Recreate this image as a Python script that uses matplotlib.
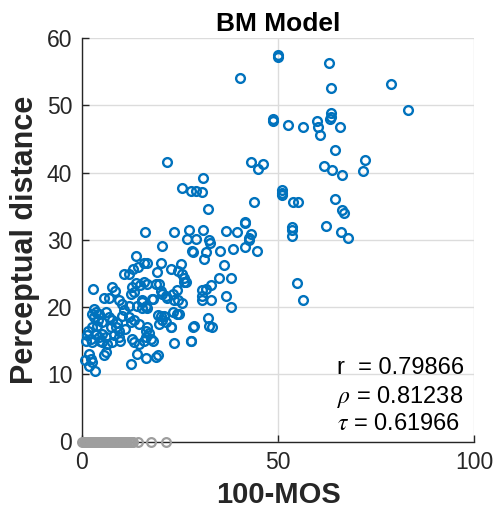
import matplotlib
matplotlib.use("Agg")
import matplotlib.pyplot as plt

plt.rcParams['font.family'] = ['Liberation Sans', 'DejaVu Sans']
plt.rcParams['mathtext.fontset'] = 'stix'

# Blue points (100-MOS, perceptual distance)
blue_x = [
    49.9, 49.9, 40.3, 48.7, 48.7, 52.5, 43.2, 46.1, 45.0, 43.8, 41.7, 41.7,
    51.0, 51.0, 51.0, 63.0, 63.5, 78.9, 83.2,
    56.5, 60.0, 60.2, 60.6, 63.4, 63.6, 63.2, 65.7, 64.6, 72.3, 71.6, 61.7, 63.9, 66.4,
    53.9, 55.0, 64.6, 66.2, 66.9, 53.6, 53.6, 53.6, 62.3, 66.1, 67.8, 54.8, 56.3,
    21.8, 30.8, 25.4, 27.7, 29.1, 30.5, 32.1,
    16.1, 23.5, 27.3, 30.9, 26.9, 29.2, 32.4, 32.6, 36.8, 39.5, 43.2, 42.7, 42.6,
    41.6, 44.7, 38.5, 35.1, 20.4, 28.0, 28.3, 31.6, 31.0, 36.2,
    13.7, 15.9, 16.5, 20.1, 22.6, 25.2, 24.6, 25.6, 26.0, 26.5, 19.1, 10.8, 12.0,
    12.9, 14.2,
    15.9, 16.7, 18.0, 19.7, 20.1, 21.4, 21.8, 24.3, 23.5, 25.6, 30.5, 30.7, 30.7,
    32.8, 32.8, 34.9, 37.9, 36.8, 37.9, 32.2, 33.1, 28.4, 27.9, 23.5, 19.3, 22.6,
    24.3, 23.2, 20.1, 19.3, 20.4, 19.7, 16.7, 15.4, 17.8, 16.5, 17.0, 17.6, 16.3,
    12.0,
    18.8, 20.5, 23.1, 24.4, 31.6, 15.4, 16.3, 20.9, 21.4, 16.3, 18.0, 15.9, 18.8,
    26.0, 22.6, 24.8, 28.6, 32.4, 27.7,
    2.8, 7.7, 8.4, 12.8, 13.2, 12.4, 13.7, 14.9, 5.6, 6.9, 9.4, 10.3, 3.1, 3.5,
    2.6, 3.1, 4.3, 6.0, 6.9, 7.7, 10.7, 10.3, 12.0, 14.1, 15.3, 16.2, 12.4, 13.2,
    14.5, 2.6, 3.9, 5.2, 7.3, 8.6, 9.4, 1.3, 2.2, 0.9, 2.6, 3.5, 4.3, 5.2, 6.0,
    5.2, 6.4, 7.7, 9.4, 9.8, 8.1, 12.8, 13.2, 14.5, 1.8, 2.2, 2.6, 1.8, 6.0, 5.6,
    14.1, 16.2, 12.4, 3.3,
    1.5, 4.0, 8.9, 11.0, 0.8, 4.7,
]
blue_y = [
    57.2, 57.5, 54.0, 47.6, 47.9, 47.0, 41.6, 41.3, 40.5, 35.6, 32.5, 32.7,
    37.4, 37.0, 36.7, 56.3, 52.6, 53.1, 49.3,
    46.8, 47.6, 46.7, 45.6, 48.8, 48.3, 47.9, 46.7, 43.3, 41.9, 40.2, 41.0, 40.3, 39.7,
    35.6, 35.6, 36.0, 34.4, 34.0, 31.9, 31.4, 30.5, 32.0, 31.2, 30.3, 23.5, 21.1,
    41.5, 39.2, 37.7, 37.3, 37.3, 37.1, 34.5,
    31.1, 31.1, 31.4, 31.4, 30.1, 30.1, 29.9, 29.5, 31.3, 31.1, 30.8, 30.3, 29.9,
    28.9, 28.4, 28.6, 28.4, 29.1, 28.3, 28.2, 28.2, 27.1, 26.3,
    27.6, 26.6, 26.5, 26.6, 25.6, 26.4, 25.4, 24.9, 24.3, 23.7, 25.2, 24.9, 24.9,
    25.6, 25.9,
    23.7, 23.4, 21.2, 23.4, 22.4, 21.7, 21.4, 22.5, 21.0, 20.6, 22.5, 21.7, 21.0,
    23.2, 21.0, 24.3, 24.3, 21.7, 20.0, 18.4, 17.0, 17.1, 14.9, 14.7, 12.8, 17.1,
    19.0, 19.2, 18.7, 18.8, 18.0, 17.5, 19.9, 19.9, 21.2, 17.0, 16.2, 15.3, 15.5,
    20.1,
    23.4, 21.9, 21.9, 21.0, 22.7, 21.0, 20.2, 18.7, 17.7, 16.5, 15.0, 15.0, 12.6,
    23.7, 17.0, 19.0, 17.2, 17.2, 15.0,
    22.7, 22.9, 22.4, 23.0, 22.2, 21.9, 23.5, 23.2, 21.4, 21.4, 21.0, 20.5, 19.7, 19.2,
    19.0, 18.5, 19.0, 19.2, 18.5, 18.0, 19.5, 18.7, 18.5, 20.2, 20.7, 20.0, 17.7, 18.0,
    17.5, 17.0, 17.2, 17.7, 17.0, 17.0, 16.5, 15.8, 15.3, 15.0, 14.8, 16.0, 15.5, 16.0, 15.5,
    14.8, 14.5, 14.8, 15.5, 15.0, 15.8, 15.3, 14.8, 14.5, 13.0, 12.3, 11.8, 11.3, 13.3, 12.8,
    13.0, 12.4, 11.5, 10.5,
    16.4, 18.0, 17.6, 16.8, 12.1, 15.0,
]

# Gray points at zero distance
gray_x = [0.1, 0.4, 0.7, 1.0, 1.3, 1.6, 2.0, 2.3, 2.7, 3.0, 3.4, 3.8, 4.1, 4.5,
          4.9, 5.2, 5.6, 6.0, 6.4, 6.8, 7.2, 7.6, 8.0, 8.4, 8.8, 9.2, 9.6, 10.0,
          10.4, 10.8, 11.2, 11.6, 12.0, 12.4, 12.8, 13.1, 14.3, 17.7, 21.5]
gray_y = [0.0] * len(gray_x)

stat_labels = ["r  = 0.79866", r"$\rho$ = 0.81238", r"$\tau$ = 0.61966"]
stat_y = [10.0, 5.7, 1.7]

x_ticks = [0, 50, 100]
y_ticks = [0, 10, 20, 30, 40, 50, 60]

fig = plt.figure(figsize=(4.95, 5.18), dpi=100)
ax = fig.add_axes([82/495, 1-441.5/518, 392/495, 403.5/518])

blue = '#0072BD'
gray = '#9E9E9E'
ax.plot(gray_x, gray_y, 'o', ls='none', mfc='none', mec=gray, ms=6.3, mew=1.6,
        clip_on=False, zorder=3)
ax.plot(blue_x, blue_y, 'o', ls='none', mfc='none', mec=blue, ms=6.3, mew=1.7,
        clip_on=False, zorder=4)

ax.set_xlim(0, 100)
ax.set_ylim(0, 60)
ax.set_xticks(x_ticks)
ax.set_yticks(y_ticks)
ax.grid(True, color='#DCDCDC', lw=1.0)
ax.set_axisbelow(True)
for s in ['top', 'right']:
    ax.spines[s].set_visible(False)
ax.spines['left'].set_color('#262626')
ax.spines['bottom'].set_color('#262626')
ax.spines['left'].set_linewidth(1.0)
ax.spines['bottom'].set_linewidth(1.0)
ax.tick_params(direction='in', length=5, width=1.0, colors='#262626',
               labelsize=16.5, labelcolor='#262626', pad=7)

ax.set_title('BM Model', fontsize=19, fontweight='bold', color='black', pad=5)
ax.set_xlabel('100-MOS', fontsize=21, fontweight='bold', color='#262626', labelpad=5)
ax.set_ylabel('Perceptual distance', fontsize=22, fontweight='bold', color='#262626',
              labelpad=5)

for lab, yy in zip(stat_labels, stat_y):
    ax.text(65.0, yy, lab, fontsize=17, color='black', ha='left', va='baseline')

fig.savefig('out.png', dpi=100)
